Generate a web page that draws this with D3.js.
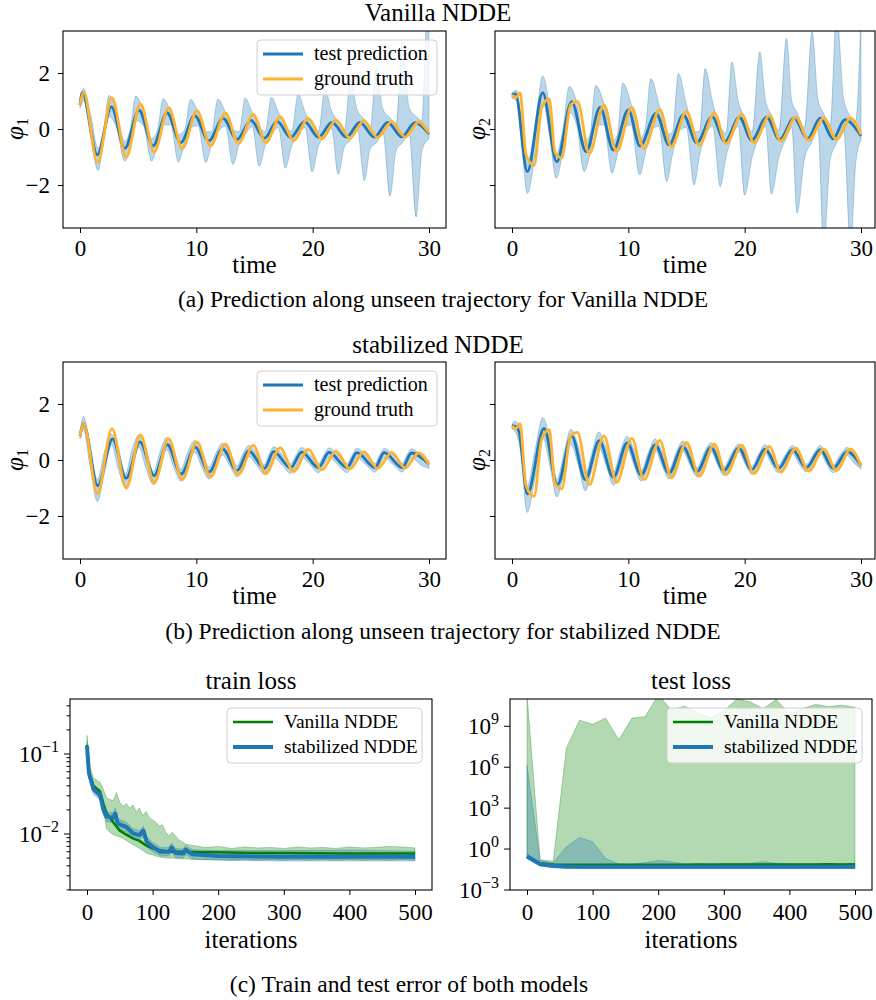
<!DOCTYPE html>
<html>
<head>
<meta charset="utf-8">
<script src="https://cdn.jsdelivr.net/npm/d3@7"></script>
<style>
  body { margin: 0; background: #fff; }
  text { font-family: "Liberation Serif", "Times New Roman", serif; fill: #000; }
</style>
</head>
<body>
<svg id="fig" width="876" height="1000"></svg>
<script>
// ---------- values ----------
const timeTicks = [0, 10, 20, 30];
const phiTicks = [-2, 0, 2];
const iterTicks = [0, 100, 200, 300, 400, 500];

// [time, value] at the turning points of each curve
const truthPhi1 = [[0,0.85],[0.32,1.3],[1.5,-1.2],[2.75,1.12],[3.98,-1.0],[5.2,0.9],[6.38,-0.82],[7.62,0.76],[8.8,-0.69],[10.06,0.65],[11.22,-0.6],[12.5,0.57],[13.62,-0.52],[14.9,0.52],[15.98,-0.49],[17.2,0.43],[18.36,-0.41],[19.63,0.38],[20.8,-0.35],[22.0,0.32],[23.2,-0.32],[24.4,0.29],[25.57,-0.3],[26.8,0.26],[27.95,-0.29],[29.1,0.25],[30,-0.15]];
const truthPhi2 = [[0,1.21],[0.34,1.12],[0.69,1.3],[1.2,-0.9],[1.9,-1.3],[2.55,0.75],[3.2,1.08],[3.7,-0.85],[4.27,-1.03],[5.04,0.86],[5.62,0.99],[6.65,-0.88],[7.9,0.86],[9.0,-0.8],[10.3,0.77],[11.35,-0.7],[12.7,0.7],[13.7,-0.63],[15.0,0.63],[16.1,-0.58],[17.4,0.57],[18.4,-0.52],[19.75,0.52],[20.8,-0.49],[22.13,0.48],[23.1,-0.43],[24.4,0.42],[25.5,-0.4],[26.8,0.39],[27.9,-0.37],[29.1,0.39],[30,-0.2]];

const vanPhi1 = [[0,0.85],[0.2,1.3],[1.49,-0.92],[2.7,0.79],[3.85,-0.69],[5.07,0.67],[6.28,-0.6],[7.48,0.58],[8.66,-0.49],[9.86,0.48],[11.07,-0.42],[12.3,0.38],[13.5,-0.37],[14.7,0.31],[15.85,-0.33],[16.95,0.27],[18.1,-0.3],[19.3,0.26],[20.5,-0.29],[21.65,0.24],[22.9,-0.29],[24.05,0.24],[25.3,-0.29],[26.45,0.24],[27.65,-0.28],[28.8,0.23],[30,-0.18]];
const vanPhi2 = [[0,1.21],[0.3,1.25],[1.32,-1.52],[2.64,1.3],[3.84,-1.17],[5.13,0.98],[6.37,-0.81],[7.57,0.77],[8.71,-0.75],[10.0,0.68],[11.0,-0.61],[12.38,0.56],[13.5,-0.57],[14.73,0.5],[15.88,-0.49],[17.2,0.44],[18.3,-0.45],[19.55,0.42],[20.6,-0.4],[21.9,0.42],[23.0,-0.38],[24.25,0.39],[25.4,-0.35],[26.5,0.39],[27.6,-0.35],[28.6,0.33],[30,-0.25]];

const stabPhi1 = [[0,0.85],[0.3,1.3],[1.52,-0.92],[2.8,0.75],[3.96,-0.65],[5.16,0.65],[6.37,-0.56],[7.5,0.55],[8.7,-0.5],[9.9,0.46],[11.1,-0.43],[12.25,0.4],[13.5,-0.38],[14.5,0.33],[15.85,-0.3],[16.65,0.3],[18.1,-0.28],[19.05,0.28],[20.5,-0.27],[21.4,0.27],[22.95,-0.27],[23.8,0.26],[25.35,-0.27],[26.15,0.26],[27.7,-0.27],[28.5,0.25],[30,-0.15]];
const stabPhi2 = [[0,1.23],[0.3,1.2],[0.6,1.02],[1.32,-1.21],[2.75,1.13],[3.9,-0.89],[5.13,0.85],[6.3,-0.7],[7.5,0.69],[8.71,-0.62],[9.9,0.61],[11.1,-0.54],[12.3,0.54],[13.5,-0.47],[14.67,0.49],[15.9,-0.42],[17.1,0.45],[18.2,-0.38],[19.5,0.42],[20.6,-0.35],[21.75,0.39],[22.9,-0.3],[24.1,0.37],[25.3,-0.27],[26.5,0.37],[27.6,-0.3],[28.8,0.3],[30,-0.2]];

// spread of the prediction: [time, lower, upper]
const vanBand1 = [[0,0.75,0.95],[0.3,1.0,1.45],[0.92,-0.3,0.5],[1.55,-1.48,-0.7],[2.02,-0.5,0.0],[2.5,0.45,1.2],[3.17,0.0,0.55],[3.85,-1.15,-0.45],[4.32,-0.55,0.0],[4.8,0.3,1.18],[5.48,0.1,0.6],[6.15,-1.15,-0.35],[6.65,-0.6,-0.05],[7.15,0.15,1.08],[7.8,0.15,0.6],[8.45,-1.18,-0.2],[8.98,-0.55,-0.05],[9.5,0.05,1.05],[10.15,0.12,0.6],[10.8,-1.2,-0.1],[11.32,-0.55,-0.1],[11.85,-0.1,1.07],[12.5,0.1,0.6],[13.15,-1.27,0.0],[13.68,-0.55,-0.1],[14.2,-0.2,1.1],[14.8,0.08,0.6],[15.4,-1.33,0.1],[15.92,-0.6,-0.1],[16.45,-0.2,1.13],[17.05,0.05,0.6],[17.65,-1.4,0.1],[18.2,-0.6,-0.08],[18.75,-0.2,1.25],[19.35,0.05,0.6],[19.95,-1.53,0.15],[20.5,-0.6,-0.08],[21.05,-0.25,1.42],[21.62,0.03,0.65],[22.2,-1.62,0.25],[22.72,-0.65,-0.05],[23.25,-0.4,1.72],[23.85,-0.02,0.65],[24.45,-1.85,0.35],[24.95,-0.7,0.0],[25.45,-0.5,2.12],[26.05,-0.15,0.7],[26.65,-2.38,0.4],[27.18,-0.75,0.15],[27.7,-0.5,3.1],[28.3,-0.2,0.75],[28.9,-3.14,0.45],[29.38,-0.8,0.3],[29.85,-0.4,4.2],[30,-0.35,3.9]];
const vanBand2 = [[0,1.1,1.3],[0.4,1.0,1.38],[0.86,-0.7,0.1],[1.32,-2.3,-1.2],[1.98,-0.95,0.1],[2.64,1.0,1.89],[3.22,-0.2,0.85],[3.8,-1.76,-0.9],[4.36,-0.85,-0.05],[4.93,0.6,1.52],[5.56,0.15,0.95],[6.2,-1.52,-0.45],[6.7,-0.9,-0.2],[7.2,0.15,1.55],[7.9,0.15,0.9],[8.6,-1.58,-0.45],[9.06,-0.9,-0.2],[9.52,-0.05,1.64],[10.24,0.15,0.9],[10.97,-1.64,-0.35],[11.45,-0.9,0.0],[11.93,-0.05,1.8],[12.62,0.1,0.9],[13.3,-1.88,-0.2],[13.8,-0.9,-0.1],[14.3,-0.1,1.98],[14.98,0.05,0.9],[15.65,-2.0,-0.1],[16.12,-0.95,-0.1],[16.6,-0.25,2.16],[17.25,0.1,0.95],[17.9,-2.06,0.1],[18.4,-1.0,-0.15],[18.9,-0.3,2.39],[19.45,0.1,1.0],[20.0,-2.36,0.4],[20.65,-1.0,-0.1],[21.3,-0.25,2.76],[21.8,0.1,1.0],[22.3,-2.32,0.5],[22.95,-1.0,-0.05],[23.6,-0.3,3.24],[24.05,0.05,1.0],[24.5,-3.0,0.6],[25.15,-1.05,0.05],[25.8,-0.45,3.48],[26.3,0.0,1.05],[26.8,-4.2,0.55],[27.35,-1.1,0.1],[27.9,-0.5,4.2],[28.5,0.0,1.1],[29.1,-4.2,0.45],[29.55,-1.2,0.3],[30,-0.4,4.2]];
const stabBand1 = [[0,0.75,0.95],[0.3,1.1,1.56],[0.85,-0.2,0.55],[1.5,-1.49,-0.7],[2.1,-0.45,0.3],[2.7,0.55,0.92],[3.28,-0.3,0.45],[3.9,-0.98,-0.5],[4.46,-0.4,0.35],[5.07,0.45,0.9],[5.68,-0.3,0.4],[6.3,-0.88,-0.42],[6.88,-0.35,0.3],[7.45,0.36,0.8],[8.07,-0.28,0.35],[8.68,-0.76,-0.32],[9.26,-0.3,0.28],[9.86,0.28,0.7],[10.47,-0.25,0.3],[11.08,-0.68,-0.25],[11.68,-0.28,0.25],[12.25,0.18,0.6],[12.9,-0.22,0.25],[13.5,-0.6,-0.2],[14.0,-0.25,0.22],[14.5,0.12,0.52],[15.2,-0.2,0.22],[15.85,-0.52,-0.16],[16.25,-0.22,0.2],[16.65,0.1,0.47],[17.4,-0.2,0.2],[18.1,-0.48,-0.13],[18.6,-0.2,0.2],[19.05,0.1,0.45],[19.8,-0.18,0.18],[20.5,-0.46,-0.12],[20.95,-0.18,0.18],[21.4,0.09,0.43],[22.2,-0.18,0.18],[22.95,-0.45,-0.12],[23.4,-0.18,0.18],[23.8,0.08,0.42],[24.6,-0.18,0.18],[25.35,-0.44,-0.12],[25.75,-0.18,0.18],[26.15,0.08,0.41],[26.95,-0.18,0.18],[27.7,-0.43,-0.12],[28.1,-0.18,0.18],[28.5,0.08,0.4],[29.3,-0.18,0.18],[30,-0.3,-0.02]];
const stabBand2 = [[0,1.1,1.3],[0.3,1.0,1.38],[0.7,0.4,1.1],[1.3,-1.87,-0.95],[2.0,-0.6,0.4],[2.65,0.8,1.52],[3.3,-0.3,0.6],[3.85,-1.32,-0.7],[4.5,-0.4,0.3],[5.05,0.55,1.1],[5.7,-0.2,0.5],[6.3,-1.1,-0.5],[6.9,-0.3,0.3],[7.45,0.45,1.0],[8.1,-0.2,0.4],[8.71,-0.9,-0.45],[9.3,-0.3,0.3],[9.9,0.4,0.85],[10.5,-0.2,0.35],[11.1,-0.75,-0.38],[11.7,-0.25,0.25],[12.3,0.35,0.75],[12.9,-0.2,0.3],[13.5,-0.68,-0.32],[14.1,-0.22,0.25],[14.67,0.32,0.68],[15.3,-0.18,0.28],[15.9,-0.6,-0.28],[16.5,-0.2,0.25],[17.1,0.3,0.62],[17.65,-0.15,0.25],[18.2,-0.55,-0.25],[18.85,-0.2,0.22],[19.5,0.28,0.58],[20.05,-0.15,0.22],[20.6,-0.5,-0.22],[21.2,-0.2,0.2],[21.75,0.25,0.55],[22.3,-0.15,0.2],[22.9,-0.45,-0.18],[23.5,-0.18,0.2],[24.1,0.23,0.52],[24.7,-0.15,0.2],[25.3,-0.42,-0.15],[25.9,-0.18,0.2],[26.5,0.23,0.52],[27.05,-0.15,0.2],[27.6,-0.45,-0.17],[28.2,-0.18,0.18],[28.8,0.17,0.45],[29.4,-0.12,0.2],[30,-0.32,-0.1]];

// train loss
const trainItersVan = [0,3,10,20,25,30,40,50,60,70,80,90,100,110,120,130,150,170,200,250,300,400,500];
const trainVan = [0.13,0.06,0.04,0.034,0.024,0.018,0.014,0.011,0.0098,0.0088,0.0082,0.0072,0.0066,0.0063,0.0061,0.006,0.006,0.0059,0.0059,0.0058,0.0058,0.0057,0.0057];
const trainItersStab = [0,3,10,20,25,30,40,43,47,60,70,80,86,91,100,112,125,129,135,147,150,160,172,200,300,400,500];
const trainStab = [0.126,0.057,0.036,0.031,0.02,0.0165,0.016,0.018,0.0135,0.0123,0.0102,0.0097,0.011,0.008,0.0069,0.006,0.006,0.0068,0.0058,0.0057,0.0064,0.0056,0.0055,0.0053,0.0052,0.0052,0.0052];
const trainStabUpper = [0.145,0.065,0.041,0.035,0.024,0.019,0.0185,0.021,0.0155,0.014,0.0117,0.011,0.0125,0.0092,0.0079,0.0068,0.0068,0.0077,0.0066,0.0065,0.0072,0.0064,0.0063,0.0062,0.0062,0.0063,0.0061];
const trainStabLower = [0.11,0.05,0.031,0.027,0.017,0.0143,0.0138,0.0155,0.0117,0.0106,0.0088,0.0084,0.0095,0.0069,0.006,0.0053,0.0053,0.0059,0.0051,0.005,0.0056,0.0049,0.0048,0.0047,0.0046,0.0046,0.0046];
const trainBandIters = [0,3,10,20,25,30,35,40,45,50,55,60,65,70,75,80,85,90,95,100,105,110,115,120,125,130,140,150,160,170,180,200,220,240,260,280,300,320,340,360,380,400,420,440,460,480,500];
const trainVanUpper = [0.17,0.075,0.05,0.044,0.036,0.028,0.027,0.026,0.033,0.025,0.022,0.024,0.021,0.023,0.019,0.021,0.017,0.019,0.016,0.015,0.014,0.0125,0.013,0.0105,0.0095,0.0105,0.0085,0.0075,0.0072,0.007,0.0068,0.007,0.0066,0.0069,0.0067,0.0068,0.0066,0.0069,0.0067,0.0068,0.0066,0.0069,0.0067,0.0068,0.007,0.0069,0.0067];
const trainVanLower = [0.1,0.05,0.034,0.027,0.02,0.0115,0.0105,0.0098,0.0095,0.0092,0.0088,0.0083,0.0078,0.0074,0.007,0.0066,0.0062,0.0058,0.0056,0.0055,0.0053,0.0052,0.0051,0.005,0.005,0.005,0.0049,0.0049,0.0048,0.0048,0.0048,0.0048,0.0047,0.0048,0.0047,0.0048,0.0047,0.0048,0.0047,0.0048,0.0047,0.0048,0.0047,0.0048,0.0047,0.0048,0.0047];

// test loss, every 20 iterations
const testIters = [0,20,40,60,80,100,120,140,160,180,200,220,240,260,280,300,320,340,360,380,400,420,440,460,480,500];
const testVan = [0.28,0.09,0.075,0.072,0.07,0.07,0.071,0.072,0.07,0.071,0.072,0.071,0.072,0.073,0.072,0.073,0.074,0.073,0.074,0.074,0.075,0.074,0.075,0.076,0.075,0.076];
const testVanUpper = [2e11,0.16,0.13,2.5e7,2.8e9,1.4e9,4e9,1e8,4e9,5e9,2e11,1.6e10,3e10,1e10,4e9,1.3e10,1e11,6e10,2e10,9e10,8e9,2e10,4e10,2.8e10,3.5e10,2.5e10];
const testVanLower = [0.2,0.06,0.045,0.04,0.04,0.039,0.039,0.04,0.039,0.039,0.04,0.039,0.039,0.04,0.039,0.039,0.04,0.039,0.039,0.04,0.039,0.04,0.04,0.039,0.04,0.04];
const testStab = [0.3,0.08,0.06,0.052,0.05,0.05,0.05,0.05,0.05,0.05,0.051,0.05,0.05,0.05,0.05,0.05,0.05,0.051,0.05,0.05,0.05,0.05,0.051,0.05,0.05,0.05];
const testStabUpper = [1.4e6,0.15,0.1,1.5,7,3.5,0.2,0.08,0.08,0.1,0.15,0.12,0.08,0.08,0.09,0.085,0.085,0.09,0.12,0.09,0.08,0.08,0.08,0.08,0.08,0.08];
const testStabLower = [0.2,0.055,0.042,0.038,0.037,0.037,0.037,0.037,0.037,0.037,0.037,0.037,0.037,0.037,0.037,0.037,0.037,0.037,0.037,0.037,0.037,0.037,0.037,0.037,0.037,0.037];

const trainMajor = [0.01, 0.1];
const trainMinor = [0.002,0.003,0.004,0.005,0.006,0.007,0.008,0.009,0.02,0.03,0.04,0.05,0.06,0.07,0.08,0.09,0.2,0.3,0.4];
const testMajor = [1e-3, 1e0, 1e3, 1e6, 1e9];

// ---------- drawing ----------
const svg = d3.select("#fig");
const blue = "#1f77b4", orange = "#ffb22e", green = "#008000";

const xTime = d3.scaleLinear().domain([0, 30]).range([17, 366]);
const yPhi = d3.scaleLinear().domain([-3.5, 3.5]).range([196, 0]);
const xIter = d3.scaleLinear().domain([0, 500]).range([17, 345]);
const yTrain = d3.scaleLog().domain([Math.pow(10, -2.7), Math.pow(10, -0.3125)]).range([191, 0]);
const yTest = d3.scaleLog().domain([1e-3, 1e11]).range([191, 0]);

let clipId = 0;
function frame(left, top, w, h) {
  const g = svg.append("g").attr("transform", `translate(${left},${top})`);
  const id = "clip" + (clipId++);
  g.append("clipPath").attr("id", id).append("rect").attr("width", w).attr("height", h);
  const plot = g.append("g").attr("clip-path", `url(#${id})`);
  return {g, plot, w, h};
}

function tidy(ax) {
  ax.attr("font-family", null).attr("font-size", null);
  ax.select(".domain").remove();
  ax.selectAll(".tick line").attr("stroke", "#000");
  ax.selectAll("text").attr("font-size", 23).attr("fill", "#000");
}

function border(p) {
  p.g.append("rect").attr("width", p.w).attr("height", p.h)
    .attr("fill", "none").attr("stroke", "#000").attr("stroke-width", 1.1);
}

function legend(g, x, y, w, items, fontSize) {
  const lg = g.append("g").attr("transform", `translate(${x},${y})`);
  lg.append("rect").attr("width", w).attr("height", 55).attr("rx", 4)
    .attr("fill", "#fff").attr("fill-opacity", 0.8).attr("stroke", "#d0d0d0");
  items.forEach((it, i) => {
    const cy = 14 + i * 25;
    lg.append("line").attr("x1", 6).attr("x2", 46).attr("y1", cy).attr("y2", cy)
      .attr("stroke", it.color).attr("stroke-width", it.width);
    lg.append("text").attr("x", 57).attr("y", cy + 6).attr("font-size", fontSize).text(it.label);
  });
}

function phiLabel(g, x, y, sub) {
  const t = g.append("text").attr("transform", `translate(${x},${y}) rotate(-90)`)
    .attr("text-anchor", "middle").attr("font-size", 25);
  t.append("tspan").attr("font-style", "italic").text("φ");
  t.append("tspan").attr("font-size", 16).attr("dy", 5).text(sub);
}

function timePanel(left, top, w, band, pred, truth, sub, labelled, withLegend) {
  const p = frame(left, top, w, 197);
  const area = d3.area().x(d => xTime(d[0])).y0(d => yPhi(d[1])).y1(d => yPhi(d[2]))
    .curve(d3.curveMonotoneX);
  const line = d3.line().x(d => xTime(d[0])).y(d => yPhi(d[1])).curve(d3.curveMonotoneX);
  p.plot.append("path").datum(band).attr("d", area)
    .attr("fill", blue).attr("fill-opacity", 0.3)
    .attr("stroke", blue).attr("stroke-opacity", 0.3).attr("stroke-width", 1);
  p.plot.append("path").datum(pred).attr("d", line)
    .attr("fill", "none").attr("stroke", blue).attr("stroke-width", 2.8);
  p.plot.append("path").datum(truth).attr("d", line)
    .attr("fill", "none").attr("stroke", orange).attr("stroke-width", 2.8);

  const ax = p.g.append("g").attr("transform", "translate(0,197)")
    .call(d3.axisBottom(xTime).tickValues(timeTicks).tickSize(5).tickPadding(7));
  tidy(ax);
  const ay = p.g.append("g")
    .call(d3.axisLeft(yPhi).tickValues(phiTicks).tickSize(5).tickPadding(8)
      .tickFormat(labelled ? d3.format("d") : ""));
  tidy(ay);
  border(p);

  p.g.append("text").attr("x", w / 2).attr("y", 242).attr("text-anchor", "middle")
    .attr("font-size", 25).text("time");
  phiLabel(p.g, labelled ? -40 : -10, 98, sub);
  if (withLegend) {
    legend(p.g, 194, 9, 180, [
      {label: "test prediction", color: blue, width: 2.8},
      {label: "ground truth", color: orange, width: 2.8}
    ], 20);
  }
}

function logTicks(g, y, major, minor) {
  major.forEach(v => {
    g.append("line").attr("x1", -6).attr("x2", 0).attr("y1", y(v)).attr("y2", y(v)).attr("stroke", "#000");
    const t = g.append("text").attr("x", -11).attr("y", y(v) + 8).attr("text-anchor", "end").attr("font-size", 23);
    t.append("tspan").text("10");
    t.append("tspan").attr("font-size", 16).attr("dy", -10).text(d3.format("d")(Math.round(Math.log10(v))));
  });
  minor.forEach(v => {
    g.append("line").attr("x1", -3.5).attr("x2", 0).attr("y1", y(v)).attr("y2", y(v)).attr("stroke", "#000");
  });
}

function lossPanel(left, top, y, title, bands, lines, major, minor) {
  const p = frame(left, top, 362, 191);
  bands.forEach(b => {
    const rows = b.iters.map((it, i) => [it, b.lo[i], b.hi[i]]);
    p.plot.append("path").datum(rows)
      .attr("d", d3.area().x(d => xIter(d[0])).y0(d => y(d[1])).y1(d => y(d[2])))
      .attr("fill", b.color).attr("fill-opacity", 0.3)
      .attr("stroke", b.color).attr("stroke-opacity", 0.3).attr("stroke-width", 1);
  });
  lines.forEach(l => {
    const rows = l.iters.map((it, i) => [it, l.vals[i]]);
    p.plot.append("path").datum(rows)
      .attr("d", d3.line().x(d => xIter(d[0])).y(d => y(d[1])))
      .attr("fill", "none").attr("stroke", l.color).attr("stroke-width", l.width)
      .attr("stroke-linejoin", "round");
  });
  const ax = p.g.append("g").attr("transform", "translate(0,191)")
    .call(d3.axisBottom(xIter).tickValues(iterTicks).tickSize(5).tickPadding(9));
  tidy(ax);
  logTicks(p.g, y, major, minor);
  border(p);
  p.g.append("text").attr("x", 181).attr("y", 249).attr("text-anchor", "middle")
    .attr("font-size", 25).text("iterations");
  p.g.append("text").attr("x", 181).attr("y", -10).attr("text-anchor", "middle")
    .attr("font-size", 25).text(title);
  legend(p.g, 157, 9, 195, [
    {label: "Vanilla NDDE", color: green, width: 2.5},
    {label: "stabilized NDDE", color: blue, width: 4}
  ], 19.5);
}

// row (a)
svg.append("text").attr("x", 438).attr("y", 21).attr("text-anchor", "middle").attr("font-size", 25).text("Vanilla NDDE");
timePanel(63, 31, 383, vanBand1, vanPhi1, truthPhi1, "1", true, true);
timePanel(495, 31, 380, vanBand2, vanPhi2, truthPhi2, "2", false, false);
svg.append("text").attr("x", 443).attr("y", 307).attr("text-anchor", "middle").attr("font-size", 23.5)
  .text("(a) Prediction along unseen trajectory for Vanilla NDDE");

// row (b)
svg.append("text").attr("x", 438).attr("y", 353).attr("text-anchor", "middle").attr("font-size", 25).text("stabilized NDDE");
timePanel(63, 362, 383, stabBand1, stabPhi1, truthPhi1, "1", true, true);
timePanel(495, 362, 380, stabBand2, stabPhi2, truthPhi2, "2", false, false);
svg.append("text").attr("x", 443).attr("y", 639).attr("text-anchor", "middle").attr("font-size", 23.5)
  .text("(b) Prediction along unseen trajectory for stabilized NDDE");

// row (c)
lossPanel(70, 699, yTrain, "train loss",
  [{iters: trainBandIters, lo: trainVanLower, hi: trainVanUpper, color: green},
   {iters: trainItersStab, lo: trainStabLower, hi: trainStabUpper, color: blue}],
  [{iters: trainItersVan, vals: trainVan, color: green, width: 2.5},
   {iters: trainItersStab, vals: trainStab, color: blue, width: 4}],
  trainMajor, trainMinor);
lossPanel(510, 699, yTest, "test loss",
  [{iters: testIters, lo: testVanLower, hi: testVanUpper, color: green},
   {iters: testIters, lo: testStabLower, hi: testStabUpper, color: blue}],
  [{iters: testIters, vals: testVan, color: green, width: 2.5},
   {iters: testIters, vals: testStab, color: blue, width: 4}],
  testMajor, []);
svg.append("text").attr("x", 409).attr("y", 992).attr("text-anchor", "middle").attr("font-size", 23.5)
  .text("(c) Train and test error of both models");
</script>
</body>
</html>
